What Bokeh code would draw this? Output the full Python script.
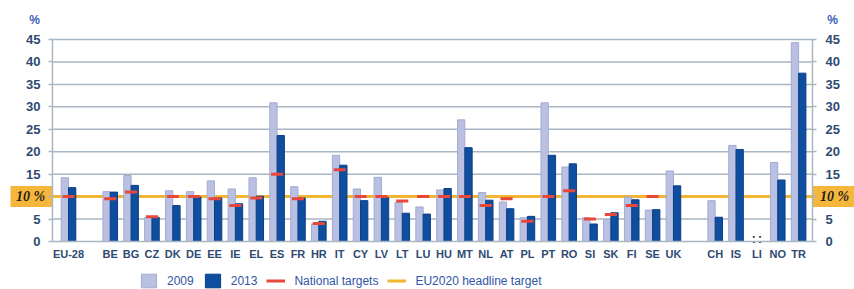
import math
from bokeh.plotting import figure
from bokeh.models import (Range1d, FixedTicker, LinearAxis, Label, Legend,
                          LegendItem, ColumnDataSource)
from bokeh.core.properties import value
from bokeh.embed import file_html
from bokeh.resources import INLINE

nan = float("nan")

# ---- data ----
group_agg = ["EU-28"]
group_members = ["BE", "BG", "CZ", "DK", "DE", "EE", "IE", "EL", "ES", "FR", "HR",
                 "IT", "CY", "LV", "LT", "LU", "HU", "MT", "NL", "AT", "PL", "PT",
                 "RO", "SI", "SK", "FI", "SE", "UK"]
group_other = ["CH", "IS", "LI", "NO", "TR"]

v2009 = [14.2,
         11.1, 14.7, 5.4, 11.3, 11.1, 13.5, 11.7, 14.2, 30.9, 12.2, 3.9,
         19.2, 11.7, 14.3, 8.7, 7.7, 11.5, 27.1, 10.9, 8.8, 5.3, 30.9,
         16.6, 5.3, 4.9, 9.9, 7.0, 15.7,
         9.1, 21.4, nan, 17.6, 44.3]
v2013 = [12.0,
         11.0, 12.5, 5.4, 8.0, 9.9, 9.7, 8.4, 10.1, 23.6, 9.7, 4.5,
         17.0, 9.1, 9.8, 6.3, 6.1, 11.8, 20.9, 9.2, 7.3, 5.6, 19.2,
         17.3, 3.9, 6.4, 9.3, 7.1, 12.4,
         5.4, 20.5, nan, 13.7, 37.5]
national_targets = [10,
                    9.5, 11, 5.5, 10, 10, 9.5, 8, 9.7, 15, 9.5, 4,
                    16, 10, 10, 9, 10, 10, 10, 8, 9.5, 4.5, 10,
                    11.3, 5, 6, 8, 10, nan,
                    nan, nan, nan, nan, nan]
eu_headline_target = 10
y_ticks = [0, 5, 10, 15, 20, 25, 30, 35, 40, 45]
missing_mark = ":"

# ---- layout of slots (one empty slot between groups) ----
countries, pos = [], []
slot = 0
for gi, grp in enumerate([group_agg, group_members, group_other]):
    if gi > 0:
        slot += 1
    for c in grp:
        countries.append(c)
        pos.append(slot)
        slot += 1
last = pos[-1]

W, H = 854, 289
bw = 0.35
# plotting area bounds (data units)
x_left, x_right = -0.767, last + 0.67
y_top = 45
# full-canvas ranges (frame covers the whole canvas; axes placed with fixed_location)
px_x = 20.86
px_y = 4.489
x_start = -3.26
x_end = x_start + W / px_x
y_end = 241 / px_y
y_start = y_end - H / px_y

src = ColumnDataSource(dict(
    x=pos, country=countries, v2009=v2009, v2013=v2013,
    x09=[p_ - bw / 2 for p_ in pos], x13=[p_ + bw / 2 for p_ in pos],
    t=national_targets,
    t0=[p_ - 0.29 for p_ in pos], t1=[p_ + 0.29 for p_ in pos],
))

C_LIGHT = "#B9C0E1"
C_DARK = "#0F4E9E"
C_RED = "#E8473B"
C_GOLD = "#F2B632"
C_GRID = "#A9B6C4"
C_TXT = "#2E4A72"

p = figure(width=W, height=H, x_range=Range1d(x_start, x_end),
           y_range=Range1d(y_start, y_end), output_backend="svg",
           toolbar_location=None, min_border=0, x_axis_type=None,
           y_axis_type=None)
p.outline_line_color = None
p.background_fill_color = "white"
p.border_fill_color = "white"
p.grid.visible = False

# horizontal grid lines limited to the plotting area
grid_y = y_ticks[1:]
p.segment(x0=[x_left] * len(grid_y), x1=[x_right] * len(grid_y), y0=grid_y,
          y1=grid_y, line_color=C_GRID, line_width=1.5)

# headline target line (behind bars)
r_eu = p.segment(x0=[x_left], x1=[x_right], y0=[eu_headline_target],
                 y1=[eu_headline_target], line_color=C_GOLD, line_width=3)

r09 = p.vbar(x="x09", top="v2009", width=bw, source=src, fill_color=C_LIGHT,
             line_color="#A3ABD3", line_width=1)
r13 = p.vbar(x="x13", top="v2013", width=bw, source=src, fill_color=C_DARK,
             line_color="#0B3F86", line_width=1)
r_nt = p.segment(x0="t0", x1="t1", y0="t", y1="t", source=src,
                 line_color=C_RED, line_width=3)

# missing values marker (LI)
li_idx = [i for i, v in enumerate(v2009) if isinstance(v, float) and math.isnan(v)]
for i in li_idx:
    p.text(x=[pos[i] - 0.15, pos[i] + 0.15], y=[0, 0], text=[missing_mark] * 2,
           text_align="center", text_baseline="alphabetic", y_offset=-3,
           text_font=value("Liberation Sans"), text_font_style="bold",
           text_font_size="12px", text_color="#222222")

# "10 %" boxes on both sides of the plotting area
box_w = 42 / px_x
p.rect(x=[x_left - box_w / 2, x_right + box_w / 2], y=[eu_headline_target] * 2,
       width=box_w, height=21, height_units="screen", fill_color="#F5B73B",
       line_color=None)
for xx, off in ((x_left, -22), (x_right, 22)):
    p.add_layout(Label(x=xx, y=eu_headline_target, x_offset=off,
                       text="10 %", text_align="center", text_baseline="middle",
                       text_font="Liberation Serif", text_font_style="bold italic",
                       text_font_size="14px", text_color="#1E1E1E"))

# y axes (left and right), placed at the plotting-area edges
left = LinearAxis(fixed_location=x_left)
right = LinearAxis(fixed_location=x_right)
p.add_layout(left, "left")
p.add_layout(right, "right")
for ax, so in ((left, 8), (right, 9)):
    ax.ticker = FixedTicker(ticks=y_ticks)
    ax.bounds = (0, y_top)
    ax.major_label_overrides = {10: ""}
    ax.axis_line_color = C_GRID
    ax.axis_line_width = 1.5
    ax.major_tick_line_color = C_GRID
    ax.major_tick_line_width = 1.5
    ax.major_tick_out = 4
    ax.major_tick_in = 0
    ax.minor_tick_line_color = None
    ax.major_label_standoff = so
    ax.major_label_text_font = "Liberation Sans"
    ax.major_label_text_font_style = "bold"
    ax.major_label_text_font_size = "13px"
    ax.major_label_text_color = C_TXT

# x axis at zero
xax = LinearAxis(fixed_location=0)
p.add_layout(xax, "below")
xax.ticker = FixedTicker(ticks=pos)
xax.bounds = (x_left, x_right)
xax.major_label_overrides = {pp: c for pp, c in zip(pos, countries)}
xax.axis_line_color = C_GRID
xax.axis_line_width = 1.5
xax.major_tick_line_color = None
xax.minor_tick_line_color = None
xax.major_label_standoff = 0
xax.major_label_text_font = "Liberation Sans"
xax.major_label_text_font_style = "bold"
xax.major_label_text_font_size = "11px"
xax.major_label_text_color = C_TXT

# "%" unit labels above the y axes
for xx, off in ((x_left, -18), (x_right, 20)):
    p.add_layout(Label(x=xx, y=y_top, x_offset=off, y_offset=12, text="%",
                       text_align="center", text_baseline="bottom",
                       text_font="Liberation Sans", text_font_style="bold",
                       text_font_size="12px", text_color="#3A5CB8"))

legend = Legend(items=[
    LegendItem(label="2009", renderers=[r09]),
    LegendItem(label="2013", renderers=[r13]),
    LegendItem(label="National targets", renderers=[r_nt]),
    LegendItem(label="EU2020 headline target", renderers=[r_eu]),
], orientation="horizontal", location=(139, 0), border_line_color=None,
    background_fill_alpha=0, margin=0, padding=0, glyph_width=19,
    glyph_height=17, label_standoff=9, spacing=9,
    label_text_font="Liberation Sans", label_text_font_size="12px",
    label_text_color="#2F55A5")
p.add_layout(legend, "center")

open("out.html", "w").write(file_html(p, INLINE))
